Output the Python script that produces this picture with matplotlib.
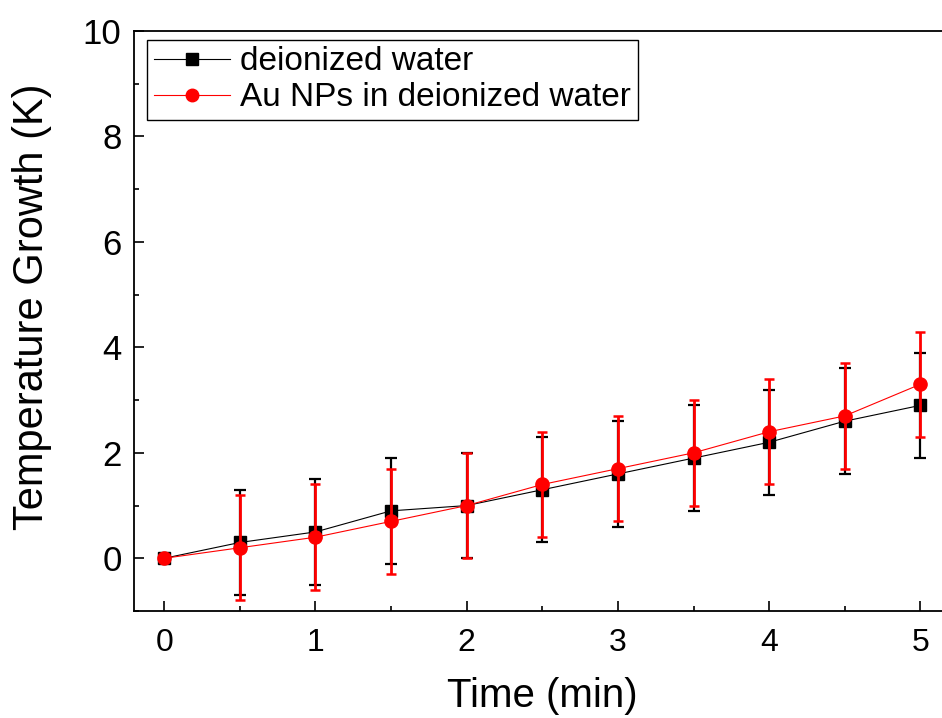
"""Temperature growth vs. time: deionized water vs. Au NPs in deionized water."""

import matplotlib
matplotlib.use("Agg")
import matplotlib.pyplot as plt
from matplotlib.lines import Line2D
from matplotlib.ticker import MultipleLocator

# ─── data ────────────────────────────────────────────────────────────────────
time_min = [0, 0.5, 1.0, 1.5, 2.0, 2.5, 3.0, 3.5, 4.0, 4.5, 5.0]
water = [0, 0.3, 0.5, 0.9, 1.0, 1.3, 1.6, 1.9, 2.2, 2.6, 2.9]
water_err = [0, 1.0, 1.0, 1.0, 1.0, 1.0, 1.0, 1.0, 1.0, 1.0, 1.0]
au_nps = [0, 0.2, 0.4, 0.7, 1.0, 1.4, 1.7, 2.0, 2.4, 2.7, 3.3]
au_err = [0, 1.0, 1.0, 1.0, 1.0, 1.0, 1.0, 1.0, 1.0, 1.0, 1.0]

LABEL_WATER = "deionized water"
LABEL_AU = "Au NPs in deionized water"

plt.rcParams["font.family"] = ["Liberation Sans", "DejaVu Sans"]

fig = plt.figure(figsize=(9.42, 7.18), dpi=100)
# axes run past the right edge of the figure, as in the reference
ax = fig.add_axes([0.1423, 0.149, 0.8668, 0.8078])

ax.errorbar(time_min, water, yerr=water_err, color="black", lw=0.8,
            marker="s", ms=8.5, elinewidth=1.6, capsize=4, capthick=1.6,
            zorder=2)
ax.errorbar(time_min, au_nps, yerr=au_err, color="red", lw=0.8,
            marker="o", ms=9.5, elinewidth=2.0, capsize=3.6, capthick=1.8,
            zorder=3)

ax.set_xlim(-0.2, 5.2)
ax.set_ylim(-1, 10)
ax.xaxis.set_major_locator(MultipleLocator(1))
ax.xaxis.set_minor_locator(MultipleLocator(0.5))
ax.yaxis.set_major_locator(MultipleLocator(2))
ax.yaxis.set_minor_locator(MultipleLocator(1))

ax.tick_params(which="both", direction="in", width=1.2, top=False, right=False)
ax.tick_params(which="major", length=7)
ax.tick_params(which="minor", length=3.5)
ax.tick_params(axis="y", labelsize=25, pad=9)
ax.tick_params(axis="x", labelsize=23, pad=12)

for side in ("left", "bottom", "top"):
    ax.spines[side].set_linewidth(1.3)
ax.spines["right"].set_visible(False)

ax.set_xlabel("Time (min)", fontsize=29, labelpad=14)
ax.set_ylabel("Temperature Growth (K)", fontsize=30)
ax.yaxis.set_label_coords(-0.1, 0.524)

handles = [
    Line2D([], [], color="black", lw=0.8, marker="s", ms=8),
    Line2D([], [], color="red", lw=0.8, marker="o", ms=9),
]
leg = ax.legend(handles, [LABEL_WATER, LABEL_AU],
                loc="upper left", bbox_to_anchor=(0.016, 0.985), borderaxespad=0,
                fontsize=24, frameon=True, fancybox=False, framealpha=1,
                edgecolor="black", handlelength=2.3, handletextpad=0.3,
                labelspacing=0.15, borderpad=0.2)
leg.get_frame().set_linewidth(1.0)

fig.savefig("out.png", dpi=100)
